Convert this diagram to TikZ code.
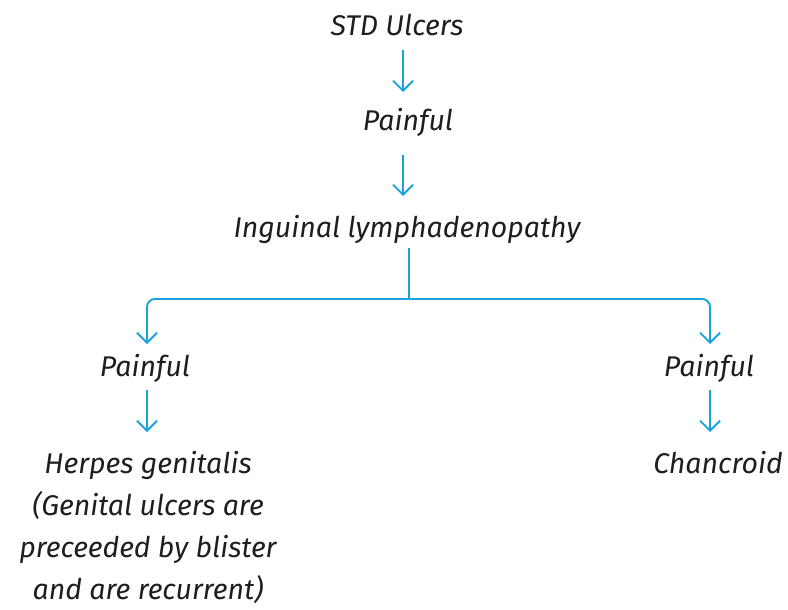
\documentclass[tikz,border=0pt]{standalone}
\usepackage{fontspec}
\setmainfont{Fira Sans}
\usetikzlibrary{arrows.meta,calc}
\definecolor{lineblue}{RGB}{24,163,222}
\definecolor{txt}{RGB}{30,30,30}
\tikzset{
  lbl/.style={anchor=base,inner sep=0pt,text=txt,font=\fontsize{28.5}{42}\selectfont\itshape},
  arr/.style={draw=lineblue,line width=1.9pt,-{Straight Barb[length=10pt,width=20pt,line width=1.9pt]}},
  ln/.style={draw=lineblue,line width=1.9pt}
}
\begin{document}
\begin{tikzpicture}[x=1pt,y=-1pt]
\useasboundingbox (0,0) rectangle (788,610);
\node[lbl] (std) at (397,36) {STD Ulcers};
\node[lbl] (p1) at (408,131) {Painful};
\node[lbl] (ing) at (407,237) {Inguinal lymphadenopathy};
\node[lbl] (pl) at (145,376) {Painful};
\node[lbl] (pr) at (709,376) {Painful};
\node[lbl,align=center] (herp) at (148,599) {Herpes genitalis\\(Genital ulcers are\\preceeded by blister\\and are recurrent)};
\node[lbl] (chan) at (718,473) {Chancroid};
\coordinate (a1s) at (403,50); \coordinate (a1e) at (403,92);
\coordinate (a2s) at (403,155); \coordinate (a2e) at (403,196);
\coordinate (bs) at (409,248); \coordinate (bj) at (409,299);
\coordinate (bl) at (147,344); \coordinate (br) at (710,344);
\coordinate (a3s) at (147,390); \coordinate (a3e) at (147,432);
\coordinate (a4s) at (710,390); \coordinate (a4e) at (710,432);
\draw[arr] (a1s) -- (a1e);
\draw[arr] (a2s) -- (a2e);
\draw[ln] (bs) -- (bj);
\draw[arr,rounded corners=8pt] (bj) -| (bl);
\draw[arr,rounded corners=8pt] (bj) -| (br);
\draw[arr] (a3s) -- (a3e);
\draw[arr] (a4s) -- (a4e);
\end{tikzpicture}
\end{document}
